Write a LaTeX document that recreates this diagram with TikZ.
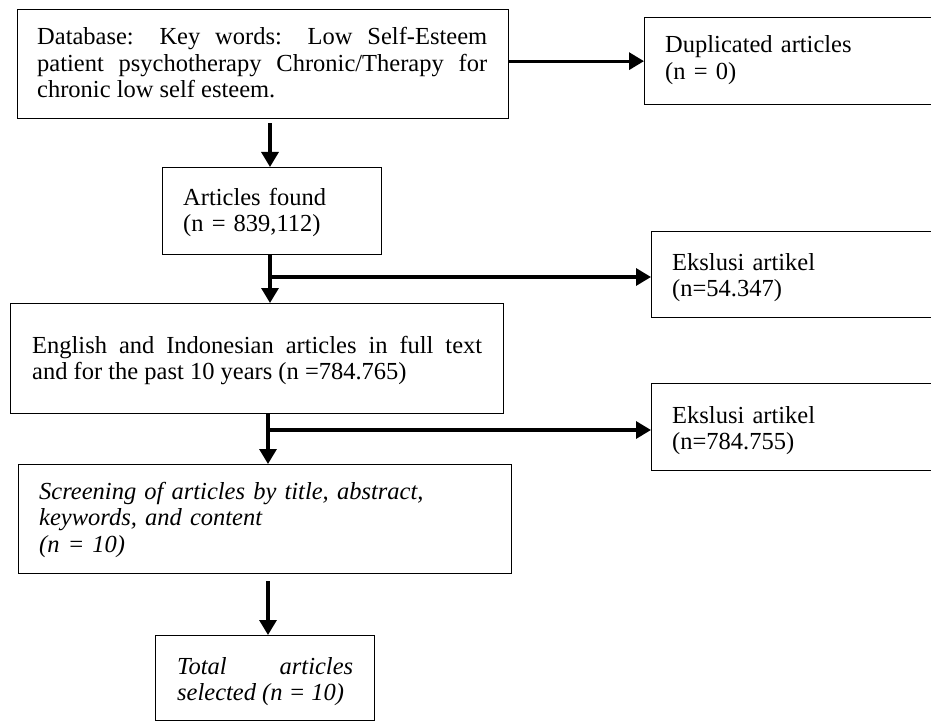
\documentclass[tikz,border=0pt]{standalone}
\usepackage{fontspec}
\setmainfont{Liberation Serif}
\usetikzlibrary{arrows.meta}
\tikzset{
  boxnode/.style={draw=black, line width=1.3pt, rectangle, inner sep=0pt, anchor=north west},
  txt/.style={inner sep=0pt, anchor=base west, font=\fontsize{24.5}{26.5}\selectfont},
  flowarrow/.style={line width=3.2pt, -{Triangle[length=15pt,width=17pt]}},
  flowline/.style={line width=3.2pt}
}
\begin{document}
\begin{tikzpicture}[x=1pt,y=-1pt]
\useasboundingbox (0,0) rectangle (931,722);
% boxes
\node[boxnode, minimum width=491pt, minimum height=109pt] (b1) at (17,9) {};
\node[boxnode, minimum width=287pt, minimum height=87pt] (dup) at (644,17) {};
\node[boxnode, minimum width=219pt, minimum height=87pt] (art) at (162,167) {};
\node[boxnode, minimum width=280pt, minimum height=86pt] (ex1) at (651,231) {};
\node[boxnode, minimum width=493pt, minimum height=110pt] (eng) at (10,303) {};
\node[boxnode, minimum width=280pt, minimum height=87pt] (ex2) at (651,383) {};
\node[boxnode, minimum width=493pt, minimum height=109pt] (scr) at (18,464) {};
\node[boxnode, minimum width=219pt, minimum height=85pt] (tot) at (155,635) {};
% texts
\node[txt, text width=450pt, align=justify] (t1) at (37,45)
  {Database: Key words: Low Self-Esteem\linebreak patient psychotherapy Chronic/Therapy for\linebreak chronic low self esteem.};
\node[txt, text width=250pt, align=left] (tdup) at (665,53) {Duplicated articles\\(n = 0)};
\node[txt, text width=190pt, align=left] (tart) at (183,205) {Articles found\\(n = 839,112)};
\node[txt, text width=240pt, align=left] (tex1) at (672,270) {Ekslusi artikel\\(n=54.347)};
\node[txt, text width=450pt, align=justify] (teng) at (32,353)
  {English and Indonesian articles in full text\linebreak and for the past 10 years (n =784.765)};
\node[txt, text width=240pt, align=left] (tex2) at (672,423) {Ekslusi artikel\\(n=784.755)};
\node[txt, text width=450pt, align=left, font=\fontsize{24.5}{26.5}\selectfont\itshape] (tscr) at (39,499)
  {Screening of articles by title, abstract,\\keywords, and content\\(n = 10)};
\node[txt, text width=176pt, align=justify, font=\fontsize{24.5}{26.5}\selectfont\itshape] (ttot) at (177,674)
  {Total articles\linebreak selected (n = 10)};
% connectors
\coordinate (j1) at (270,277);
\coordinate (j2) at (268,430);
\draw[flowarrow] (b1.east |- dup.west) -- (dup.west);
\draw[flowarrow, shorten <=4pt] (j1 |- b1.south) -- (j1 |- art.north);
\draw[flowarrow] (j1 |- art.south) -- (j1 |- eng.north);
\draw[flowarrow] (j1) -- (j1 -| ex1.west);
\draw[flowarrow] (j2 |- eng.south) -- (j2 |- scr.north);
\draw[flowarrow] (j2) -- (j2 -| ex2.west);
\draw[flowarrow, shorten <=7pt] (j2 |- scr.south) -- (j2 |- tot.north);
\end{tikzpicture}
\end{document}
